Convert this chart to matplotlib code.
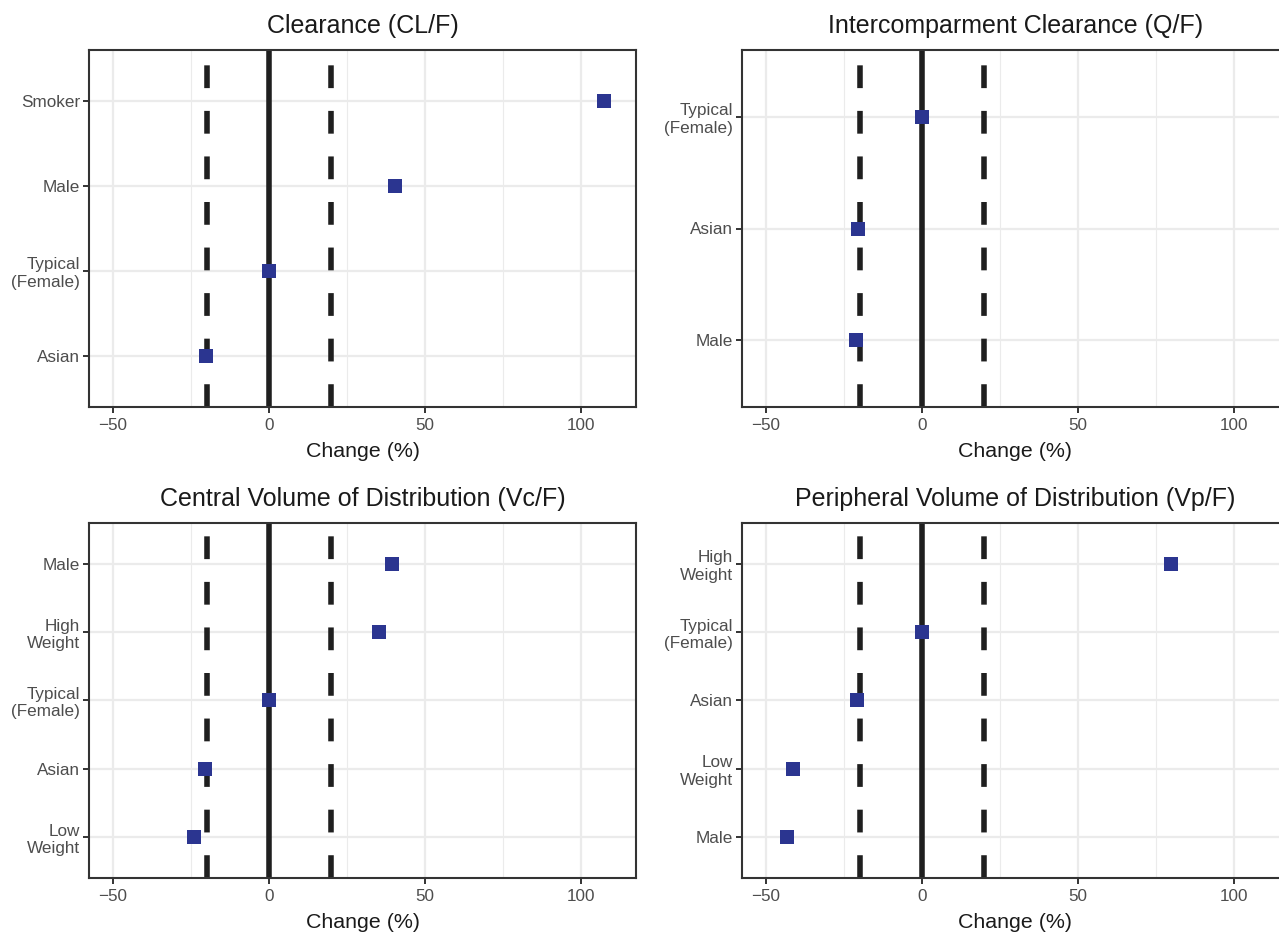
import matplotlib
matplotlib.use("Agg")
import matplotlib.pyplot as plt
from matplotlib.ticker import FixedLocator

plt.rcParams['font.family'] = ['Liberation Sans', 'DejaVu Sans']
plt.rcParams['lines.scale_dashes'] = False

# ---- data ----
titles = ["Clearance (CL/F)", "Intercomparment Clearance (Q/F)",
          "Central Volume of Distribution (Vc/F)", "Peripheral Volume of Distribution (Vp/F)"]

# categories listed bottom -> top
cl_labels = ["Asian", "Typical\n(Female)", "Male", "Smoker"]
cl_values = [-20.2, 0.0, 40.4, 107.4]

q_labels = ["Male", "Asian", "Typical\n(Female)"]
q_values = [-21.2, -20.5, 0.0]

vc_labels = ["Low\nWeight", "Asian", "Typical\n(Female)", "High\nWeight", "Male"]
vc_values = [-24.2, -20.6, 0.0, 35.3, 39.5]

vp_labels = ["Male", "Low\nWeight", "Asian", "Typical\n(Female)", "High\nWeight"]
vp_values = [-43.3, -41.3, -20.7, 0.0, 79.9]

ref_line = 0
bound_lines = [-20, 20]
x_major = [-50, 0, 50, 100]
x_minor = [-25, 25, 75]
xlim = (-57.7, 117.6)
xlabel = "Change (%)"

panels = [(cl_labels, cl_values), (q_labels, q_values),
          (vc_labels, vc_values), (vp_labels, vp_values)]

W, H = 1279, 932
fig = plt.figure(figsize=(W / 100, H / 100), dpi=100)

# panel boxes in pixels: left, top, right, bottom
boxes = [(89, 50, 636, 407), (742, 50, 1288.5, 407),
         (89, 523, 636, 878), (742, 523, 1288.5, 878)]

marker_color = "#2B3590"
dark = "#1F1F1F"
grid_c = "#EBEBEB"

for (labels, values), title, (l, t, r, b) in zip(panels, titles, boxes):
    ax = fig.add_axes([l / W, (H - b) / H, (r - l) / W, (b - t) / H])
    n = len(labels)
    ypos = list(range(1, n + 1))
    ax.set_xlim(*xlim)
    ax.set_ylim(0.4, n + 0.6)
    ax.xaxis.set_major_locator(FixedLocator(x_major))
    ax.xaxis.set_minor_locator(FixedLocator(x_minor))
    ax.set_yticks(ypos)
    ax.set_yticklabels(labels, linespacing=1.2)
    ax.set_axisbelow(True)
    ax.grid(True, which='major', color=grid_c, linewidth=1.6)
    ax.grid(True, which='minor', axis='x', color=grid_c, linewidth=0.8)
    ax.tick_params(which='minor', length=0)
    ax.tick_params(which='major', length=4, width=1.4, color="#333333",
                   labelcolor="#4D4D4D", labelsize=12.3, pad=2.5)
    ax.tick_params(axis='x', pad=3.8)
    for s in ax.spines.values():
        s.set_color("#333333")
        s.set_linewidth(1.5)
    if r > W:
        ax.spines['right'].set_visible(False)

    ax.axvline(ref_line, color=dark, linewidth=4.0, zorder=2)
    for xv in bound_lines:
        ax.axvline(xv, color=dark, linewidth=4.0, linestyle=(0, (16.4, 16.4)),
                   dash_capstyle='butt', zorder=2)
    ax.plot(values, ypos, linestyle='none', marker='s', markersize=9.6,
            color=marker_color, markeredgewidth=0, zorder=3)

    ax.set_title(title, fontsize=18, color="#1A1A1A", pad=12)
    ax.set_xlabel(xlabel, fontsize=15.4, color="#1A1A1A", labelpad=6.5)

fig.savefig("out.png", dpi=100)
